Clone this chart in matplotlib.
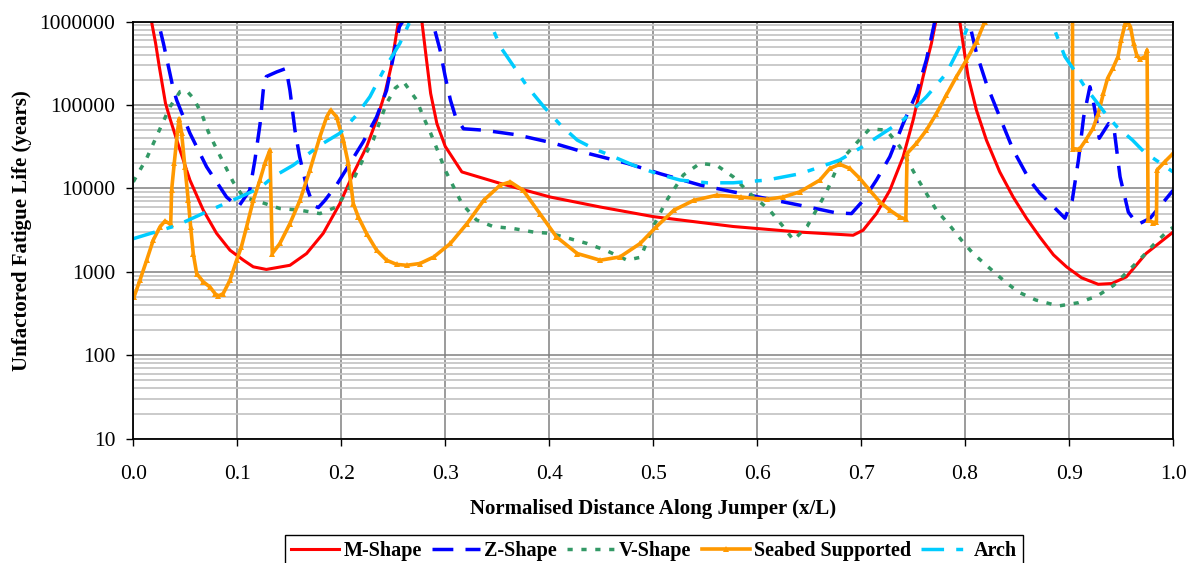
import numpy as np
import matplotlib
matplotlib.use("Agg")
import matplotlib.pyplot as plt
from matplotlib.ticker import LogLocator, FixedLocator, FuncFormatter, NullFormatter

plt.rcParams['font.family'] = ['Liberation Serif', 'DejaVu Serif']

# Fatigue life (years), as (x/L, life) pairs.
# Values of 1e8 stand for the parts of a curve that run off the top of the plot.
m_shape = [(0.000, 5e7), (0.0176, 1e6), (0.0215, 5.5e5), (0.025, 2.9e5), (0.031, 1.05e5),
           (0.0353, 6.9e4), (0.0449, 2.9e4), (0.0545, 1.26e4), (0.0673, 5.5e3), (0.0801, 2.9e3),
           (0.093, 1.82e3), (0.106, 1.38e3), (0.1154, 1.15e3), (0.128, 1.07e3), (0.1507, 1.2e3),
           (0.1667, 1.66e3), (0.1827, 2.9e3), (0.1987, 6.6e3), (0.2116, 1.51e4), (0.2244, 3.16e4),
           (0.234, 6.6e4), (0.242, 1.38e5), (0.248, 2.9e5), (0.255, 1e6), (0.266, 1e8),
           (0.2776, 1e6), (0.282, 3.5e5), (0.286, 1.38e5), (0.292, 6.0e4), (0.300, 3.2e4),
           (0.316, 1.58e4), (0.353, 1.15e4), (0.401, 7.9e3), (0.449, 6.0e3), (0.500, 4.6e3),
           (0.577, 3.5e3), (0.641, 3.0e3), (0.6923, 2.75e3), (0.7019, 3.16e3), (0.7147, 5.0e3),
           (0.7276, 9.5e3), (0.7404, 2.4e4), (0.750, 6.6e4), (0.7596, 2.19e5), (0.7676, 5.5e5),
           (0.7718, 1e6), (0.783, 1e8), (0.7949, 1e6), (0.798, 5.5e5), (0.8029, 2.19e5),
           (0.8109, 8.7e4), (0.8205, 3.8e4), (0.8333, 1.58e4), (0.8462, 7.9e3), (0.859, 4.4e3),
           (0.872, 2.6e3), (0.885, 1.6e3), (0.8975, 1.15e3), (0.912, 850), (0.928, 710),
           (0.941, 725), (0.955, 870), (0.974, 1.66e3), (1.000, 3.0e3)]

z_shape = [(0.000, 5e7), (0.024, 1e6), (0.029, 5.5e5), (0.038, 1.66e5), (0.0417, 1.15e5),
           (0.0545, 4.6e4), (0.0705, 1.82e4), (0.0897, 7.9e3), (0.101, 6.0e3), (0.112, 9.5e3),
           (0.117, 2.2e4), (0.122, 6.0e4), (0.125, 1.5e5), (0.128, 2.2e5), (0.138, 2.5e5),
           (0.147, 2.75e5), (0.1507, 1.5e5), (0.1555, 5.0e4), (0.160, 2.4e4), (0.1667, 1.05e4),
           (0.173, 6.3e3), (0.178, 5.9e3), (0.1843, 7.2e3), (0.1955, 1.1e4), (0.2084, 2.0e4),
           (0.221, 3.6e4), (0.234, 7.2e4), (0.2436, 1.5e5), (0.256, 8.7e5), (0.259, 1e6),
           (0.272, 1e8), (0.287, 1e6), (0.290, 7.9e5), (0.295, 4.6e5), (0.300, 2.2e5),
           (0.305, 1.15e5), (0.310, 7.2e4), (0.3176, 5.2e4), (0.337, 5.0e4), (0.369, 4.4e4),
           (0.404, 3.5e4), (0.439, 2.6e4), (0.475, 2.0e4), (0.507, 1.5e4), (0.545, 1.1e4),
           (0.577, 9.1e3), (0.641, 6.3e3), (0.676, 5.1e3), (0.6907, 5.0e3), (0.702, 7.2e3),
           (0.7147, 1.26e4), (0.7276, 2.4e4), (0.7404, 6.0e4), (0.7532, 1.38e5), (0.7628, 3.5e5),
           (0.7708, 1e6), (0.787, 1e8), (0.8038, 1e6), (0.8109, 4.2e5), (0.8205, 1.8e5),
           (0.8333, 7.2e4), (0.8462, 2.9e4), (0.862, 1.26e4), (0.872, 8.7e3), (0.882, 6.6e3),
           (0.896, 4.4e3), (0.903, 7.2e3), (0.909, 2.2e4), (0.914, 7.2e4), (0.920, 1.66e5),
           (0.923, 1.15e5), (0.926, 7.2e4), (0.929, 4.0e4), (0.938, 6.0e4), (0.943, 5.5e4),
           (0.949, 1.38e4), (0.957, 5.2e3), (0.966, 3.7e3), (0.978, 4.4e3), (1.000, 9.5e3)]

v_shape = [(0.000, 1.2e4), (0.0129, 2.3e4), (0.0273, 5.75e4), (0.0353, 9.5e4), (0.045, 1.45e5),
           (0.051, 1.5e5), (0.058, 1.2e5), (0.0658, 7.9e4), (0.0721, 4.8e4), (0.080, 3.0e4),
           (0.088, 1.9e4), (0.096, 1.2e4), (0.1058, 7.9e3), (0.122, 6.9e3), (0.141, 5.75e3),
           (0.160, 5.5e3), (0.1795, 5.0e3), (0.1955, 6.0e3), (0.2084, 1.05e4), (0.2228, 2.5e4),
           (0.2308, 3.8e4), (0.237, 6.3e4), (0.2436, 1.05e5), (0.252, 1.6e5), (0.260, 1.9e5),
           (0.2725, 1.15e5), (0.279, 7.2e4), (0.286, 4.6e4), (0.294, 2.6e4), (0.300, 1.66e4),
           (0.308, 1.05e4), (0.316, 6.6e3), (0.330, 4.2e3), (0.346, 3.5e3), (0.366, 3.3e3),
           (0.385, 3.0e3), (0.401, 2.9e3), (0.420, 2.5e3), (0.436, 2.2e3), (0.455, 1.8e3),
           (0.475, 1.38e3), (0.488, 1.5e3), (0.500, 3.5e3), (0.513, 7.2e3), (0.529, 1.45e4),
           (0.545, 2.0e4), (0.561, 1.9e4), (0.577, 1.38e4), (0.593, 8.7e3), (0.612, 5.5e3),
           (0.625, 3.5e3), (0.635, 2.4e3), (0.648, 3.5e3), (0.6667, 9.1e3), (0.6795, 2.1e4),
           (0.6955, 3.5e4), (0.7083, 5.2e4), (0.7244, 5.0e4), (0.737, 3.2e4), (0.7532, 1.38e4),
           (0.7628, 8.7e3), (0.7724, 5.5e3), (0.7853, 3.6e3), (0.7965, 2.4e3), (0.8077, 1.66e3),
           (0.8221, 1.15e3), (0.837, 790), (0.851, 575), (0.868, 460), (0.8898, 390),
           (0.909, 427), (0.927, 513), (0.943, 692), (0.956, 1.0e3), (0.969, 1.45e3),
           (0.981, 2.1e3), (0.996, 3.2e3), (1.000, 3.4e3)]

seabed = [(0.0007, 500), (0.0064, 794), (0.0129, 1.38e3), (0.0192, 2.4e3), (0.0257, 3.47e3),
          (0.0305, 4.07e3), (0.036, 3.72e3), (0.0369, 9.55e3), (0.0394, 2.0e4), (0.0427, 5.0e4),
          (0.0442, 6.9e4), (0.0465, 4.6e4), (0.0497, 1.8e4), (0.0529, 7.2e3), (0.0552, 3.47e3),
          (0.0577, 1.66e3), (0.061, 955), (0.0673, 760), (0.0737, 660), (0.0786, 550),
          (0.0817, 513), (0.0865, 550), (0.093, 794), (0.0994, 1.38e3), (0.104, 2.0e3),
          (0.109, 3.47e3), (0.1154, 7.2e3), (0.1218, 1.26e4), (0.1266, 2.0e4), (0.1314, 2.88e4),
          (0.1337, 1.66e3), (0.141, 2.19e3), (0.1507, 3.8e3), (0.1603, 7.2e3), (0.1699, 1.66e4),
          (0.1795, 4.17e4), (0.186, 7.2e4), (0.1898, 8.7e4), (0.1955, 7.2e4), (0.202, 3.8e4),
          (0.2068, 2.0e4), (0.2116, 6.6e3), (0.2164, 4.57e3), (0.2244, 2.88e3), (0.234, 1.82e3),
          (0.2436, 1.38e3), (0.2532, 1.23e3), (0.2628, 1.2e3), (0.2757, 1.26e3), (0.289, 1.51e3),
          (0.305, 2.19e3), (0.321, 3.8e3), (0.337, 7.2e3), (0.353, 1.1e4), (0.3625, 1.2e4),
          (0.375, 9.5e3), (0.391, 5.0e3), (0.407, 2.63e3), (0.427, 1.66e3), (0.449, 1.38e3),
          (0.468, 1.51e3), (0.4875, 2.19e3), (0.503, 3.47e3), (0.520, 5.5e3), (0.539, 7.2e3),
          (0.561, 8.3e3), (0.584, 7.9e3), (0.609, 7.4e3), (0.625, 7.9e3), (0.641, 9.1e3),
          (0.6603, 1.26e4), (0.670, 1.74e4), (0.6795, 1.95e4), (0.689, 1.74e4), (0.6987, 1.32e4),
          (0.7083, 9.5e3), (0.718, 6.9e3), (0.7276, 5.5e3), (0.737, 4.57e3), (0.743, 4.27e3),
          (0.7442, 2.63e4), (0.7532, 3.47e4), (0.7628, 5.0e4), (0.7724, 7.9e4), (0.782, 1.32e5),
          (0.7917, 2.19e5), (0.8013, 3.47e5), (0.811, 5.75e5), (0.8189, 1e6), (0.860, 1e8),
          (0.9030, 1e8), (0.9035, 3.0e4), (0.910, 2.95e4), (0.916, 3.8e4), (0.923, 5.25e4),
          (0.928, 7.9e4), (0.933, 1.38e5), (0.937, 2.09e5), (0.942, 2.75e5), (0.947, 3.8e5),
          (0.950, 6.0e5), (0.954, 9.5e5), (0.956, 1e6), (0.959, 8.7e5), (0.962, 5.5e5),
          (0.965, 4.0e5), (0.968, 3.55e5), (0.973, 3.8e5), (0.975, 4.57e5), (0.976, 4.17e3),
          (0.981, 3.9e3), (0.984, 3.98e3), (0.9845, 1.66e4), (0.992, 2.09e4), (1.000, 2.63e4)]

arch = [(0.000, 2.5e3), (0.0417, 3.6e3), (0.074, 5.5e3), (0.1026, 7.9e3), (0.122, 1.02e4),
        (0.1346, 1.38e4), (0.1538, 1.9e4), (0.1795, 3.3e4), (0.1987, 4.6e4), (0.2148, 7.6e4),
        (0.2276, 1.26e5), (0.240, 2.5e5), (0.2564, 5.5e5), (0.266, 1e6), (0.300, 1e8),
        (0.343, 1e6), (0.353, 5.0e5), (0.366, 2.9e5), (0.379, 1.66e5), (0.395, 9.5e4),
        (0.411, 5.75e4), (0.427, 3.8e4), (0.443, 3.0e4), (0.462, 2.4e4), (0.481, 1.9e4),
        (0.504, 1.5e4), (0.526, 1.26e4), (0.552, 1.17e4), (0.577, 1.17e4), (0.609, 1.26e4),
        (0.641, 1.5e4), (0.660, 1.8e4), (0.6795, 2.2e4), (0.702, 3.2e4), (0.7212, 4.6e4),
        (0.7404, 6.6e4), (0.7628, 1.26e5), (0.782, 2.4e5), (0.7949, 5.0e5), (0.8045, 1e6),
        (0.845, 1e8), (0.883, 1e6), (0.896, 3.8e5), (0.906, 2.5e5), (0.914, 1.74e5),
        (0.936, 7.6e4), (0.946, 5.5e4), (0.961, 3.8e4), (0.972, 2.75e4), (1.000, 1.58e4)]

x_ticks = [0.0, 0.1, 0.2, 0.3, 0.4, 0.5, 0.6, 0.7, 0.8, 0.9, 1.0]
y_ticks = [10, 100, 1000, 10000, 100000, 1000000]

fig = plt.figure(figsize=(11.93, 5.63), dpi=100)
ax = fig.add_axes([0.1117, 0.2208, 0.8716, 0.7407])

def xy(series):
    a = np.array(series, dtype=float)
    return a[:, 0], a[:, 1]

lw = 2.2
x, y = xy(m_shape)
ax.plot(x, y, color='#ff0000', lw=lw, label='M-Shape', solid_joinstyle='round')
x, y = xy(z_shape)
ax.plot(x, y, color='#0000ff', lw=lw + 0.3, dashes=(6, 3.5), label='Z-Shape')
x, y = xy(v_shape)
ax.plot(x, y, color='#339966', lw=lw + 0.3, dashes=(1.5, 2.5), label='V-Shape')
x, y = xy(seabed)
ax.plot(x, y, color='#ff9900', lw=lw + 0.4, marker='^', markersize=5,
        markeredgewidth=0, label='Seabed Supported')
x, y = xy(arch)
ax.plot(x, y, color='#00ccff', lw=lw + 0.3, dashes=(6.5, 3.5, 2, 3.5), label='Arch')

ax.set_yscale('log')
ax.set_xlim(0, 1)
ax.set_ylim(10, 1e6)

ax.xaxis.set_major_locator(FixedLocator(x_ticks))
ax.xaxis.set_major_formatter(FuncFormatter(lambda v, p: f'{v:.1f}'))
ax.yaxis.set_major_locator(FixedLocator(y_ticks))
ax.yaxis.set_major_formatter(FuncFormatter(lambda v, p: f'{int(round(v))}'))
ax.yaxis.set_minor_locator(LogLocator(base=10, subs=np.arange(2, 10)))
ax.yaxis.set_minor_formatter(NullFormatter())

ax.set_axisbelow(True)
ax.grid(which='major', axis='both', color='#808080', lw=1.1)
ax.grid(which='minor', axis='y', color='#c6c6c6', lw=1.3)

ax.tick_params(which='major', direction='out', length=5, width=1, labelsize=15.5)
ax.tick_params(axis='y', which='major', pad=8)
ax.tick_params(axis='x', which='major', pad=14)
ax.tick_params(which='minor', length=0)
for s in ax.spines.values():
    s.set_color('black')
    s.set_linewidth(1.3)

ax.set_xlabel('Normalised Distance Along Jumper (x/L)', fontsize=15, fontweight='bold')
ax.xaxis.set_label_coords(0.5, -0.145)
ax.set_ylabel('Unfactored Fatigue Life (years)', fontsize=15, fontweight='bold')
ax.yaxis.set_label_coords(-0.097, 0.5)

leg = fig.legend(loc='upper center', bbox_to_anchor=(0.548, 0.0497), ncol=5,
                 prop={'weight': 'bold', 'size': 14.5}, frameon=True, fancybox=False,
                 edgecolor='black', framealpha=1, handlelength=2.4, handletextpad=0.2,
                 columnspacing=0.5, borderpad=0.3, borderaxespad=0)
leg.get_frame().set_linewidth(1.0)

fig.savefig('out.png', dpi=100)
